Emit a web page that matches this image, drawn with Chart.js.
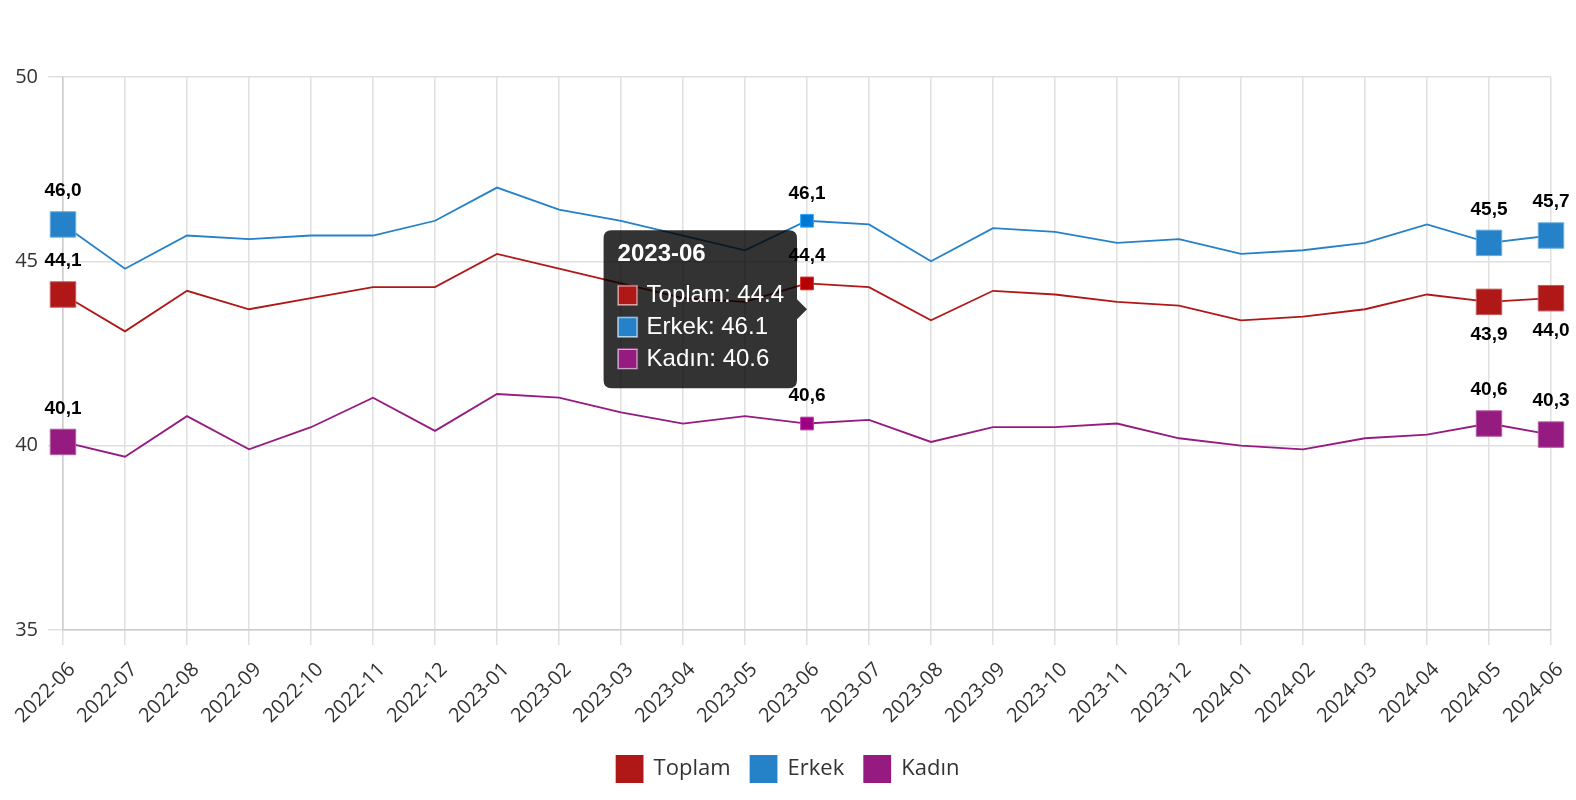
<!DOCTYPE html>
<html lang="tr">
<head>
<meta charset="UTF-8">
<title>Toplam / Erkek / Kadın</title>
<script src="https://cdn.jsdelivr.net/npm/chart.js@4.4.1/dist/chart.umd.min.js"></script>
<style>
  html, body { margin: 0; padding: 0; background: #fff; }
  canvas { display: block; }
</style>
</head>
<body>
<canvas id="grafik" width="1576" height="800"></canvas>
<script>
// aylar
const aylar = ['2022-06','2022-07','2022-08','2022-09','2022-10','2022-11','2022-12',
  '2023-01','2023-02','2023-03','2023-04','2023-05','2023-06','2023-07','2023-08',
  '2023-09','2023-10','2023-11','2023-12','2024-01','2024-02','2024-03','2024-04',
  '2024-05','2024-06'];

const toplam = [44.1, 43.1, 44.2, 43.7, 44.0, 44.3, 44.3, 45.2, 44.8, 44.4, 44.0, 43.9, 44.4,
  44.3, 43.4, 44.2, 44.1, 43.9, 43.8, 43.4, 43.5, 43.7, 44.1, 43.9, 44.0];
const erkek = [46.0, 44.8, 45.7, 45.6, 45.7, 45.7, 46.1, 47.0, 46.4, 46.1, 45.7, 45.3, 46.1,
  46.0, 45.0, 45.9, 45.8, 45.5, 45.6, 45.2, 45.3, 45.5, 46.0, 45.5, 45.7];
const kadin = [40.1, 39.7, 40.8, 39.9, 40.5, 41.3, 40.4, 41.4, 41.3, 40.9, 40.6, 40.8, 40.6,
  40.7, 40.1, 40.5, 40.5, 40.6, 40.2, 40.0, 39.9, 40.2, 40.3, 40.6, 40.3];

const yTicks = [35, 40, 45, 50];
const aktifIndex = 12; // tooltip gösterilen ay

const son = aylar.length - 1;
// büyük işaretli noktalar: ilk ve son iki ay
const buyukNokta = i => i === 0 || i === son || i === son - 1;

function seri(label, data, renk, kenar, asagi) {
  return {
    label: label,
    data: data,
    borderColor: renk,
    backgroundColor: renk,
    borderWidth: 1.8,
    pointStyle: 'rect',
    pointRadius: ctx => buyukNokta(ctx.dataIndex) ? 18 : 0,
    pointHoverRadius: ctx => buyukNokta(ctx.dataIndex) ? 18 : 9,
    pointBorderColor: kenar,
    pointBorderWidth: 1,
    pointHoverBorderWidth: 1,
    tension: 0,
    etiketAsagi: asagi
  };
}

// veri etiketleri (virgüllü)
const etiketEklentisi = {
  id: 'etiketler',
  afterDatasetsDraw(chart) {
    const ctx = chart.ctx;
    ctx.save();
    ctx.font = 'bold 19px "Liberation Sans", Arial, sans-serif';
    ctx.fillStyle = '#000';
    ctx.textAlign = 'center';
    ctx.textBaseline = 'middle';
    chart.data.datasets.forEach((ds, di) => {
      const meta = chart.getDatasetMeta(di);
      meta.data.forEach((pt, i) => {
        if (!(buyukNokta(i) || i === aktifIndex)) return;
        const yarim = buyukNokta(i) ? 12.5 : 6.5;
        const asagi = ds.etiketAsagi && i >= son - 1;
        const y = asagi ? pt.y + yarim + 20 : pt.y - yarim - 21;
        const metin = ds.data[i].toFixed(1).replace('.', ',');
        ctx.fillText(metin, pt.x, y);
      });
    });
    ctx.restore();
  }
};

const chart = new Chart(document.getElementById('grafik'), {
  type: 'line',
  data: {
    labels: aylar,
    datasets: [
      seri('Toplam', toplam, '#b01818', '#c65a5a', true),
      seri('Erkek', erkek, '#2581c8', '#6aaee0', false),
      seri('Kadın', kadin, '#951b81', '#b25ea5', false)
    ]
  },
  plugins: [etiketEklentisi],
  options: {
    responsive: false,
    animation: false,
    layout: { padding: { top: 77, right: 0, left: 0, bottom: 8 } },
    interaction: { mode: 'index', intersect: false },
    plugins: {
      legend: {
        position: 'bottom',
        labels: {
          boxWidth: 26,
          boxHeight: 26,
          padding: 20,
          color: '#333',
          font: { size: 22, family: '"Open Sans", "Noto Sans", sans-serif' }
        }
      },
      tooltip: {
        xAlign: 'right',
        yAlign: 'center',
        backgroundColor: 'rgba(0,0,0,0.8)',
        titleFont: { size: 24, weight: 'bold', family: '"Liberation Sans", Arial, sans-serif' },
        bodyFont: { size: 24, family: '"Liberation Sans", Arial, sans-serif' },
        padding: { top: 10, bottom: 15, left: 14, right: 13 },
        cornerRadius: 8,
        boxWidth: 20,
        boxHeight: 20,
        boxPadding: 7,
        titleMarginBottom: 12,
        bodySpacing: 3,
        caretSize: 10,
        caretPadding: 0
      }
    },
    scales: {
      x: {
        afterFit: s => { s.paddingLeft = 63; s.paddingRight = 25; s.height -= 5; },
        grid: { color: '#e0e0e0', tickLength: 15, lineWidth: 1.5 },
        border: { color: '#ccc', width: 1.5 },
        ticks: {
          minRotation: 45,
          maxRotation: 45,
          autoSkip: false,
          padding: 13,
          labelOffset: 9,
          color: '#333',
          font: { size: 20, family: '"Open Sans", "Noto Sans", sans-serif' }
        }
      },
      y: {
        min: 35,
        max: 50,
        afterBuildTicks: ax => { ax.ticks = yTicks.map(v => ({ value: v })); },
        grid: { color: '#e0e0e0', tickLength: 15, lineWidth: 1.5 },
        border: { color: '#ccc', width: 1.5 },
        ticks: {
          padding: 10,
          color: '#333',
          font: { size: 20, family: '"Open Sans", "Noto Sans", sans-serif' }
        }
      }
    }
  }
});

// 2023-06 için tooltip aktif
const aktif = chart.data.datasets.map((d, i) => ({ datasetIndex: i, index: aktifIndex }));
chart.setActiveElements(aktif);
const p = chart.getDatasetMeta(0).data[aktifIndex];
chart.tooltip.setActiveElements(aktif, { x: p.x, y: p.y });
chart.update();
</script>
</body>
</html>
